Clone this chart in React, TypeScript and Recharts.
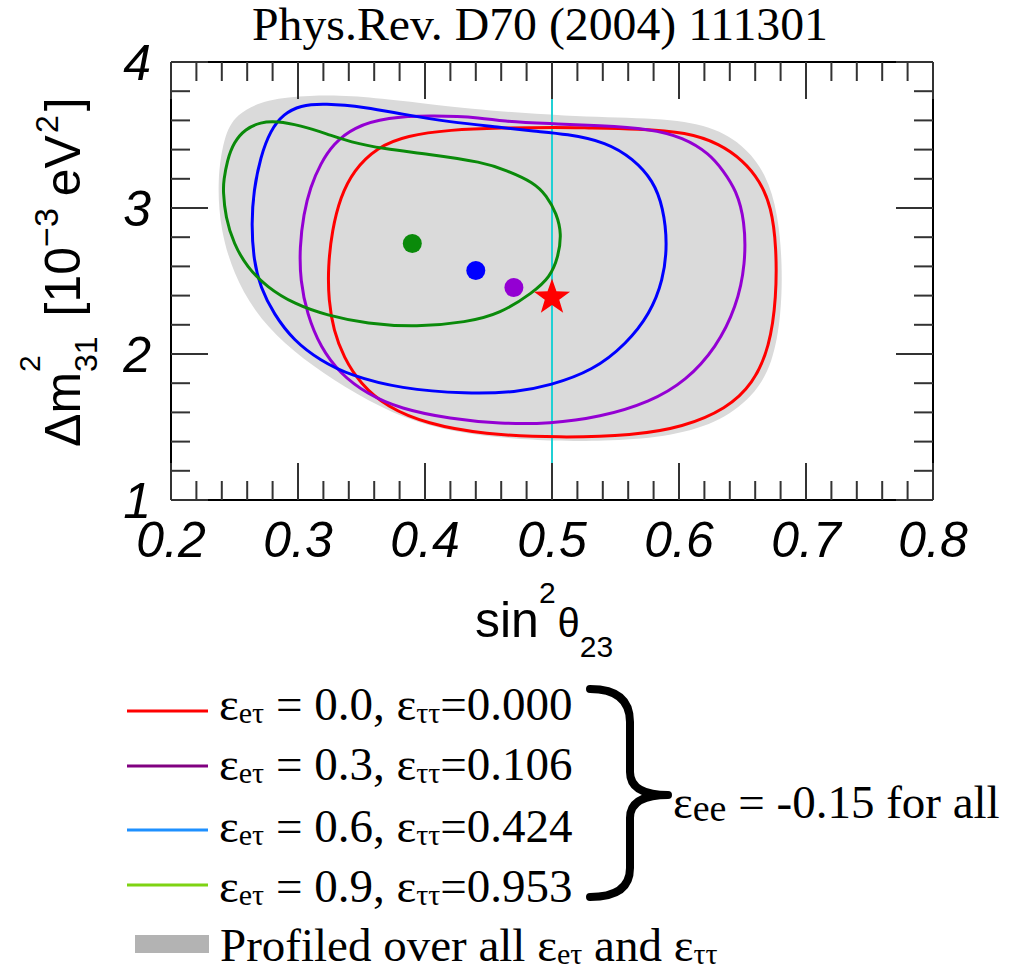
import React from 'react';
import { ComposedChart, Scatter, XAxis, YAxis } from 'recharts';

// ---------- data ----------
const xMajorTicks = [0.2, 0.3, 0.4, 0.5, 0.6, 0.7, 0.8];
const yMajorTicks = [1, 2, 3, 4];
const xTicks = Array.from({ length: 31 }, (_, i) => +(0.2 + i * 0.02).toFixed(2));
const yTicks = Array.from({ length: 16 }, (_, i) => +(1 + i * 0.2).toFixed(1));

const profiledContour = [
  { x: 0.3097, y: 3.771 }, { x: 0.2756, y: 3.748 }, { x: 0.2507, y: 3.645 }, { x: 0.2415, y: 3.485 },
  { x: 0.2363, y: 3.188 }, { x: 0.2389, y: 2.846 }, { x: 0.2494, y: 2.549 }, { x: 0.2651, y: 2.298 },
  { x: 0.2887, y: 2.070 }, { x: 0.3202, y: 1.864 }, { x: 0.3543, y: 1.682 }, { x: 0.3936, y: 1.522 },
  { x: 0.4460, y: 1.430 }, { x: 0.5063, y: 1.403 }, { x: 0.5377, y: 1.403 }, { x: 0.5902, y: 1.430 },
  { x: 0.6295, y: 1.522 }, { x: 0.6583, y: 1.704 }, { x: 0.6740, y: 1.933 }, { x: 0.6806, y: 2.275 },
  { x: 0.6814, y: 2.618 }, { x: 0.6780, y: 2.960 }, { x: 0.6688, y: 3.234 }, { x: 0.6504, y: 3.440 },
  { x: 0.6216, y: 3.577 }, { x: 0.5771, y: 3.618 }, { x: 0.5116, y: 3.627 }, { x: 0.4329, y: 3.679 },
  { x: 0.3805, y: 3.736 }, { x: 0.3411, y: 3.771 },
];

const redContour = [
  { x: 0.5063, y: 3.553 }, { x: 0.4591, y: 3.549 }, { x: 0.4198, y: 3.536 }, { x: 0.3857, y: 3.497 },
  { x: 0.3621, y: 3.416 }, { x: 0.3437, y: 3.257 }, { x: 0.3333, y: 3.074 }, { x: 0.3268, y: 2.846 },
  { x: 0.3236, y: 2.595 }, { x: 0.3241, y: 2.366 }, { x: 0.3280, y: 2.161 }, { x: 0.3359, y: 1.978 },
  { x: 0.3490, y: 1.796 }, { x: 0.3700, y: 1.636 }, { x: 0.4015, y: 1.522 }, { x: 0.4460, y: 1.449 },
  { x: 0.5063, y: 1.426 }, { x: 0.5639, y: 1.442 }, { x: 0.6032, y: 1.499 }, { x: 0.6374, y: 1.625 },
  { x: 0.6583, y: 1.796 }, { x: 0.6714, y: 2.047 }, { x: 0.6767, y: 2.389 }, { x: 0.6767, y: 2.732 },
  { x: 0.6728, y: 3.005 }, { x: 0.6636, y: 3.188 }, { x: 0.6504, y: 3.325 }, { x: 0.6321, y: 3.440 },
  { x: 0.6059, y: 3.519 }, { x: 0.5692, y: 3.542 }, { x: 0.5246, y: 3.549 },
];

const purpleContour = [
  { x: 0.4067, y: 3.634 }, { x: 0.3700, y: 3.622 }, { x: 0.3437, y: 3.553 }, { x: 0.3280, y: 3.440 },
  { x: 0.3176, y: 3.303 }, { x: 0.3097, y: 3.142 }, { x: 0.3044, y: 2.960 }, { x: 0.3013, y: 2.732 },
  { x: 0.3018, y: 2.503 }, { x: 0.3071, y: 2.275 }, { x: 0.3176, y: 2.047 }, { x: 0.3333, y: 1.864 },
  { x: 0.3543, y: 1.727 }, { x: 0.3805, y: 1.625 }, { x: 0.4198, y: 1.556 }, { x: 0.4591, y: 1.522 },
  { x: 0.4984, y: 1.522 }, { x: 0.5377, y: 1.567 }, { x: 0.5771, y: 1.670 }, { x: 0.6059, y: 1.818 },
  { x: 0.6295, y: 2.047 }, { x: 0.6452, y: 2.321 }, { x: 0.6525, y: 2.618 }, { x: 0.6518, y: 2.914 },
  { x: 0.6452, y: 3.120 }, { x: 0.6347, y: 3.257 }, { x: 0.6242, y: 3.371 }, { x: 0.6032, y: 3.485 },
  { x: 0.5771, y: 3.542 }, { x: 0.5377, y: 3.565 }, { x: 0.4984, y: 3.577 }, { x: 0.4591, y: 3.595 },
  { x: 0.4460, y: 3.618 },
];

const blueContour = [
  { x: 0.3202, y: 3.718 }, { x: 0.3018, y: 3.702 }, { x: 0.2887, y: 3.645 }, { x: 0.2782, y: 3.531 },
  { x: 0.2704, y: 3.348 }, { x: 0.2651, y: 3.120 }, { x: 0.2633, y: 2.892 }, { x: 0.2651, y: 2.640 },
  { x: 0.2704, y: 2.458 }, { x: 0.2808, y: 2.275 }, { x: 0.2966, y: 2.092 }, { x: 0.3176, y: 1.955 },
  { x: 0.3411, y: 1.853 }, { x: 0.3805, y: 1.762 }, { x: 0.4329, y: 1.727 }, { x: 0.4722, y: 1.738 },
  { x: 0.4984, y: 1.784 }, { x: 0.5325, y: 1.887 }, { x: 0.5587, y: 2.070 }, { x: 0.5771, y: 2.275 },
  { x: 0.5875, y: 2.503 }, { x: 0.5910, y: 2.755 }, { x: 0.5875, y: 3.005 }, { x: 0.5797, y: 3.188 },
  { x: 0.5639, y: 3.337 }, { x: 0.5430, y: 3.451 }, { x: 0.5116, y: 3.508 }, { x: 0.4853, y: 3.526 },
  { x: 0.4591, y: 3.553 }, { x: 0.4198, y: 3.588 }, { x: 0.3805, y: 3.645 }, { x: 0.3543, y: 3.690 },
];

const greenContour = [
  { x: 0.2410, y: 3.120 }, { x: 0.2415, y: 3.188 }, { x: 0.2442, y: 3.325 }, { x: 0.2494, y: 3.451 },
  { x: 0.2586, y: 3.542 }, { x: 0.2704, y: 3.588 }, { x: 0.2835, y: 3.595 }, { x: 0.3018, y: 3.565 },
  { x: 0.3228, y: 3.508 }, { x: 0.3411, y: 3.451 }, { x: 0.3673, y: 3.405 }, { x: 0.4015, y: 3.371 },
  { x: 0.4460, y: 3.314 }, { x: 0.4644, y: 3.257 }, { x: 0.4853, y: 3.177 }, { x: 0.4958, y: 3.086 },
  { x: 0.5037, y: 2.960 }, { x: 0.5076, y: 2.823 }, { x: 0.5049, y: 2.663 }, { x: 0.4984, y: 2.526 },
  { x: 0.4853, y: 2.423 }, { x: 0.4591, y: 2.275 }, { x: 0.4329, y: 2.218 }, { x: 0.3936, y: 2.184 },
  { x: 0.3543, y: 2.207 }, { x: 0.3228, y: 2.264 }, { x: 0.2966, y: 2.344 }, { x: 0.2756, y: 2.458 },
  { x: 0.2599, y: 2.595 }, { x: 0.2494, y: 2.755 }, { x: 0.2429, y: 2.937 },
];

const maximalMixingLine = [{ x: 0.5, y: 1 }, { x: 0.5, y: 4 }];

const greenBest = [{ x: 0.390, y: 2.757 }];
const blueBest = [{ x: 0.440, y: 2.572 }];
const purpleBest = [{ x: 0.470, y: 2.455 }];
const starPoint = [{ x: 0.5, y: 2.387 }];

const legendEet = ['0.0', '0.3', '0.6', '0.9'];
const legendEtt = ['0.000', '0.106', '0.424', '0.953'];
const legendColors = ['#ff0000', '#800080', '#1e90ff', '#7ed313'];

const title = 'Phys.Rev. D70 (2004) 111301';

// ---------- styles ----------
const C_RED = '#ff0000';
const C_PURPLE = '#9400d3';
const C_BLUE = '#0000ff';
const C_GREEN = '#0a8a0a';
const C_FILL = '#dadada';
const C_CYAN = '#20d0d4';
const TICK_COLOR = '#333';
const SANS = 'Liberation Sans, Arial, sans-serif';
const SERIF = 'Liberation Serif, Times New Roman, serif';

const isMajor = (v: number, majors: number[]) => majors.some((m) => Math.abs(m - v) < 1e-6);

const BottomTick = (props: any) => {
  const { x, y, payload } = props;
  const major = isMajor(payload.value, xMajorTicks);
  return (
    <g>
      <line x1={x} x2={x} y1={y} y2={y - (major ? 37 : 19)} stroke={TICK_COLOR} strokeWidth={2} />
      {major && (
        <text x={x} y={y + 57} textAnchor="middle" fontFamily={SANS} fontStyle="italic" fontSize={50} fill="#000">
          {payload.value.toFixed(1)}
        </text>
      )}
    </g>
  );
};

const TopTick = (props: any) => {
  const { x, y, payload } = props;
  const major = isMajor(payload.value, xMajorTicks);
  return <line x1={x} x2={x} y1={y} y2={y + (major ? 37 : 19)} stroke={TICK_COLOR} strokeWidth={2} />;
};

const LeftTick = (props: any) => {
  const { x, y, payload } = props;
  const major = isMajor(payload.value, yMajorTicks);
  return (
    <g>
      <line x1={x} x2={x + (major ? 37 : 19)} y1={y} y2={y} stroke={TICK_COLOR} strokeWidth={2} />
      {major && (
        <text x={x - 20} y={y + 18} textAnchor="end" fontFamily={SANS} fontStyle="italic" fontSize={50} fill="#000">
          {String(payload.value)}
        </text>
      )}
    </g>
  );
};

const RightTick = (props: any) => {
  const { x, y, payload } = props;
  const major = isMajor(payload.value, yMajorTicks);
  return <line x1={x} x2={x - (major ? 37 : 19)} y1={y} y2={y} stroke={TICK_COLOR} strokeWidth={2} />;
};

const NoShape = () => <g />;

const dotShape = (color: string) => (p: any) => <circle cx={p.cx} cy={p.cy} r={9.5} fill={color} />;

const StarShape = (p: any) => {
  const R = 19;
  const r = 7.6;
  const pts: string[] = [];
  for (let i = 0; i < 10; i++) {
    const a = -Math.PI / 2 + (i * Math.PI) / 5;
    const rad = i % 2 === 0 ? R : r;
    pts.push(`${p.cx + rad * Math.cos(a)},${p.cy + rad * Math.sin(a)}`);
  }
  return <polygon points={pts.join(' ')} fill={C_RED} />;
};

const contourLine = (color: string) => ({ stroke: color, strokeWidth: 3, fill: 'none' });

export default function App() {
  return (
    <div style={{ position: 'absolute', left: 0, top: 0, width: 1017, height: 966, background: '#fff' }}>
      <ComposedChart width={1017} height={966} margin={{ top: 52, right: 74, bottom: 396, left: 111 }}>
        <XAxis
          xAxisId={0}
          dataKey="x"
          type="number"
          domain={[0.2, 0.8]}
          ticks={xTicks}
          interval={0}
          height={70}
          tickSize={0}
          tickMargin={0}
          tickLine={false}
          axisLine={{ stroke: '#000', strokeWidth: 2 }}
          tick={<BottomTick />}
          allowDataOverflow
        />
        <XAxis
          xAxisId="top"
          orientation="top"
          dataKey="x"
          type="number"
          domain={[0.2, 0.8]}
          ticks={xTicks}
          interval={0}
          height={10}
          tickSize={0}
          tickMargin={0}
          tickLine={false}
          axisLine={{ stroke: '#000', strokeWidth: 2 }}
          tick={<TopTick />}
          allowDataOverflow
        />
        <YAxis
          yAxisId={0}
          dataKey="y"
          type="number"
          domain={[1, 4]}
          ticks={yTicks}
          interval={0}
          width={60}
          tickSize={0}
          tickMargin={0}
          tickLine={false}
          axisLine={{ stroke: '#000', strokeWidth: 2 }}
          tick={<LeftTick />}
          allowDataOverflow
        />
        <YAxis
          yAxisId="right"
          orientation="right"
          dataKey="y"
          type="number"
          domain={[1, 4]}
          ticks={yTicks}
          interval={0}
          width={10}
          tickSize={0}
          tickMargin={0}
          tickLine={false}
          axisLine={{ stroke: '#000', strokeWidth: 2 }}
          tick={<RightTick />}
          allowDataOverflow
        />
        <Scatter
          data={profiledContour}
          line={{ fill: C_FILL, stroke: 'none' }}
          lineJointType="basisClosed"
          shape={NoShape}
          isAnimationActive={false}
        />
        <Scatter
          data={maximalMixingLine}
          line={{ stroke: C_CYAN, strokeWidth: 2, fill: 'none' }}
          lineJointType="linear"
          shape={NoShape}
          isAnimationActive={false}
        />
        <Scatter data={redContour} line={contourLine(C_RED)} lineJointType="basisClosed" shape={NoShape} isAnimationActive={false} />
        <Scatter data={purpleContour} line={contourLine(C_PURPLE)} lineJointType="basisClosed" shape={NoShape} isAnimationActive={false} />
        <Scatter data={blueContour} line={contourLine(C_BLUE)} lineJointType="basisClosed" shape={NoShape} isAnimationActive={false} />
        <Scatter data={greenContour} line={contourLine(C_GREEN)} lineJointType="basisClosed" shape={NoShape} isAnimationActive={false} />
        <Scatter data={greenBest} shape={dotShape(C_GREEN)} isAnimationActive={false} />
        <Scatter data={blueBest} shape={dotShape(C_BLUE)} isAnimationActive={false} />
        <Scatter data={purpleBest} shape={dotShape(C_PURPLE)} isAnimationActive={false} />
        <Scatter data={starPoint} shape={StarShape} isAnimationActive={false} />
      </ComposedChart>

      <svg
        width={1017}
        height={966}
        style={{ position: 'absolute', left: 0, top: 0, pointerEvents: 'none' }}
      >
        <text x={540} y={40} textAnchor="middle" fontFamily={SERIF} fontSize={47} fill="#000" textLength={576} lengthAdjust="spacingAndGlyphs">
          {title}
        </text>

        {/* x axis title */}
        <text x={475} y={637} fontFamily={SANS} fontSize={50} fill="#000">
          <tspan>sin</tspan>
          <tspan fontSize={30} dy={-34}>2</tspan>
          <tspan fontSize={40} dx={2} dy={34}>θ</tspan>
          <tspan fontSize={30} dy={20}>23</tspan>
        </text>

        {/* y axis title */}
        <g transform="translate(80 447) rotate(-90)">
          <text x={0} y={0} fontFamily={SANS} fontSize={50} fill="#000">
            <tspan>Δm</tspan>
            <tspan fontSize={30} dy={-40}>2</tspan>
            <tspan fontSize={32} dx={-16.7} dy={57}>31</tspan>
            <tspan dx={6} dy={-17}> [10</tspan>
            <tspan fontSize={34} dy={-22}>−3</tspan>
            <tspan dx={12} dy={22}>eV</tspan>
            <tspan fontSize={32} dx={2} dy={-22}>2</tspan>
            <tspan dx={4} dy={22}>]</tspan>
          </text>
        </g>

        {/* legend */}
        {legendEet.map((eet, i) => {
          const baseline = [720, 780, 842, 902][i];
          const lineY = [711, 766, 830, 885][i];
          return (
            <g key={eet}>
              <line x1={127} x2={208} y1={lineY} y2={lineY} stroke={legendColors[i]} strokeWidth={3} />
              <text x={219} y={baseline} fontFamily={SERIF} fontSize={47} fill="#000">
                <tspan>ε</tspan>
                <tspan fontSize={30} dy={3}>eτ</tspan>
                <tspan dy={-3}>{` = ${eet}, ε`}</tspan>
                <tspan fontSize={30} dy={3}>ττ</tspan>
                <tspan dy={-3}>{`=${legendEtt[i]}`}</tspan>
              </text>
            </g>
          );
        })}
        <rect x={135} y={935} width={74} height={18} fill="#b3b3b3" />
        <text x={220} y={961} fontFamily={SERIF} fontSize={47} fill="#000">
          <tspan>Profiled over all ε</tspan>
          <tspan fontSize={30} dy={3}>eτ</tspan>
          <tspan dy={-3}> and ε</tspan>
          <tspan fontSize={30} dy={3}>ττ</tspan>
        </text>

        {/* brace */}
        <path
          d="M590,689 Q630,689 630,722 L630,772 Q630,795 668,795 Q630,795 630,818 L630,868 Q630,897 590,897"
          fill="none"
          stroke="#000"
          strokeWidth={8}
          strokeLinecap="round"
          strokeLinejoin="round"
        />
        <text x={673} y={818} fontFamily={SERIF} fontSize={47} fill="#000">
          <tspan>ε</tspan>
          <tspan fontSize={38} dy={3}>ee</tspan>
          <tspan dy={-3}> = -0.15 for all</tspan>
        </text>
      </svg>
    </div>
  );
}
